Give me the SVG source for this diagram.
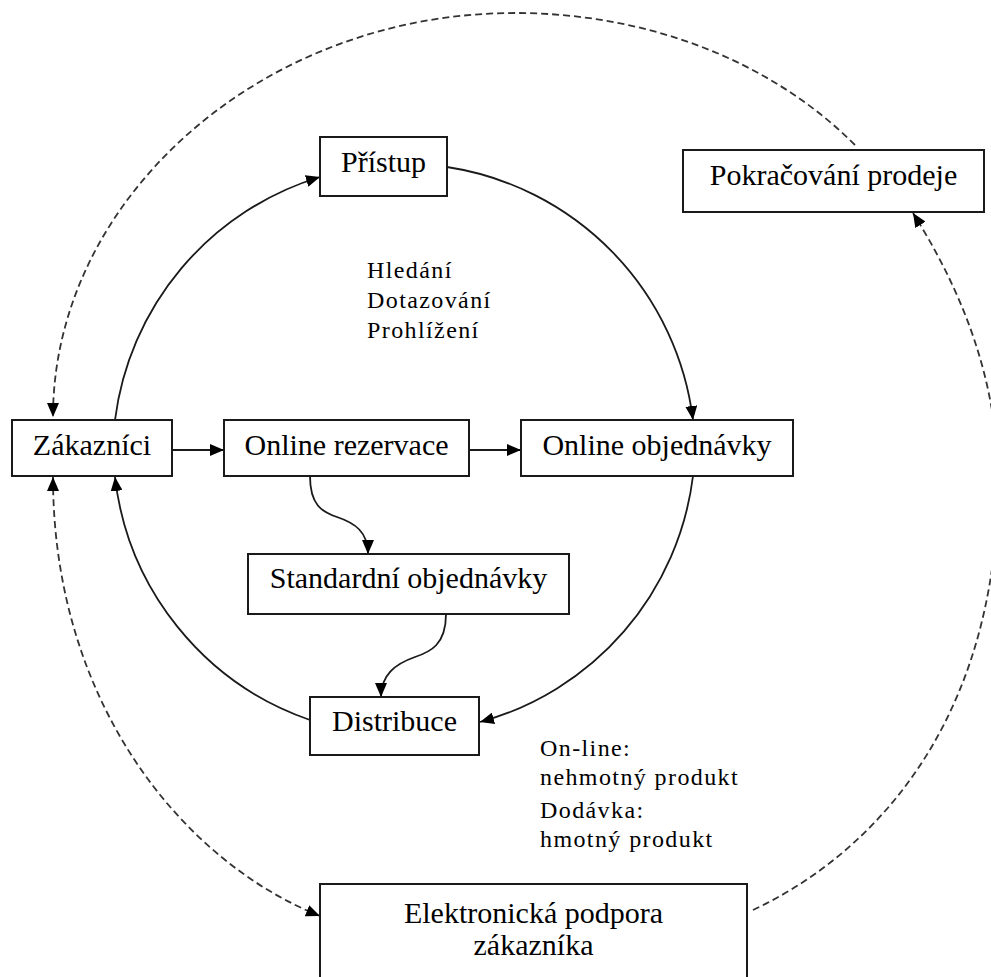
<svg xmlns="http://www.w3.org/2000/svg" width="991" height="977" viewBox="0 0 991 977">
<style>
  .box { fill: #ffffff; stroke: #1a1a1a; stroke-width: 2; }
  .lbl { font-family: "Liberation Serif", "Times New Roman", serif; font-size: 30px; fill: #000; text-anchor: middle; }
  .note { font-family: "Liberation Serif", "Times New Roman", serif; font-size: 24px; fill: #000; letter-spacing: 1.4px; }
  .solid { fill: none; stroke: #1a1a1a; stroke-width: 1.8; }
  .dash { fill: none; stroke: #333; stroke-width: 1.8; stroke-dasharray: 7 4; }
</style>
<defs>
  <marker id="ah" viewBox="0 0 14 12" refX="14" refY="6" markerWidth="14" markerHeight="12" markerUnits="userSpaceOnUse" orient="auto-start-reverse">
    <path d="M0,0 L14,6 L0,12 Z" fill="#000"/>
  </marker>
</defs>
<rect width="991" height="977" fill="#ffffff"/>

<g id="connectors">
  <!-- inner cycle -->
  <path class="solid" d="M115,420 A292,292 0 0 1 320,177" marker-end="url(#ah)"/>
  <path class="solid" d="M447,167 A292,292 0 0 1 693,420" marker-end="url(#ah)"/>
  <path class="solid" d="M693,476 A292,292 0 0 1 480,722" marker-end="url(#ah)"/>
  <path class="solid" d="M310,720 A292,292 0 0 1 115,477" marker-end="url(#ah)"/>
  <!-- straight -->
  <path class="solid" d="M172,450 L224,450" marker-end="url(#ah)"/>
  <path class="solid" d="M469,450 L521,450" marker-end="url(#ah)"/>
  <!-- s-curves -->
  <path class="solid" d="M310,476 C310,505 322,512 337,517 C355,523 368,532 368,554" marker-end="url(#ah)"/>
  <path class="solid" d="M446,614 C446,645 430,652 415,657 C395,664 381,675 381,697" marker-end="url(#ah)"/>
  <!-- dashed outer -->
  <path class="dash" d="M855,145 C768,58 643,13 515,13 C260,13 53,200 53,417" marker-end="url(#ah)"/>
  <path class="dash" d="M753,910 C860,860 990,740 998,500 C1002,380 958,285 913,213" marker-end="url(#ah)"/>
  <path class="dash" d="M53,477 C53,700 180,860 320,916" marker-start="url(#ah)" marker-end="url(#ah)"/>
</g>

<g id="pristup">
  <rect class="box" x="320" y="137" width="127" height="59"/>
  <text class="lbl" x="383.5" y="172">Přístup</text>
</g>
<g id="pokracovani">
  <rect class="box" x="683" y="150" width="301" height="62"/>
  <text class="lbl" x="833.5" y="185">Pokračování prodeje</text>
</g>
<g id="zakaznici">
  <rect class="box" x="12" y="420" width="160" height="56"/>
  <text class="lbl" x="92" y="455">Zákazníci</text>
</g>
<g id="online-rezervace">
  <rect class="box" x="224" y="420" width="245" height="56"/>
  <text class="lbl" x="346.5" y="455">Online rezervace</text>
</g>
<g id="online-objednavky">
  <rect class="box" x="521" y="420" width="272" height="56"/>
  <text class="lbl" x="657" y="455">Online objednávky</text>
</g>
<g id="standardni">
  <rect class="box" x="248" y="554" width="321" height="60"/>
  <text class="lbl" x="408.5" y="588">Standardní objednávky</text>
</g>
<g id="distribuce">
  <rect class="box" x="310" y="697" width="169" height="58"/>
  <text class="lbl" x="394.5" y="731">Distribuce</text>
</g>
<g id="elektronicka">
  <rect class="box" x="320" y="884" width="427" height="110"/>
  <text class="lbl" x="533.5" y="923">Elektronická podpora</text>
  <text class="lbl" x="533.5" y="955">zákazníka</text>
</g>

<g id="note-hledani">
  <text class="note" x="367" y="278">Hledání</text>
  <text class="note" x="367" y="308">Dotazování</text>
  <text class="note" x="367" y="338">Prohlížení</text>
</g>
<g id="note-distribuce">
  <text class="note" x="540" y="756">On-line:</text>
  <text class="note" x="540" y="785">nehmotný produkt</text>
  <text class="note" x="540" y="818">Dodávka:</text>
  <text class="note" x="540" y="847">hmotný produkt</text>
</g>
</svg>
